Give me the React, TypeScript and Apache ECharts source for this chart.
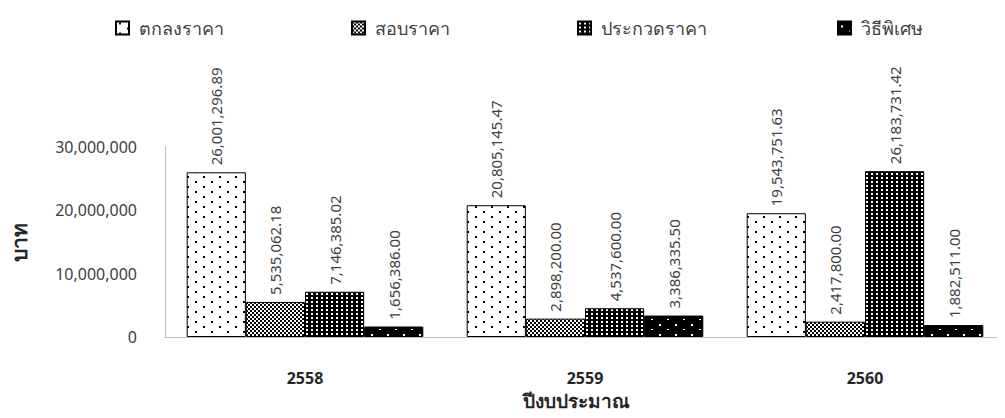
import React, { useEffect, useRef } from "react";
import * as echarts from "echarts";

const years = ["2558", "2559", "2560"];
const seriesNames = ["ตกลงราคา", "สอบราคา", "ประกวดราคา", "วิธีพิเศษ"];
const agreedPrice = [26001296.89, 20805145.47, 19543751.63];
const priceQuote = [5535062.18, 2898200.0, 2417800.0];
const bidding = [7146385.02, 4537600.0, 26183731.42];
const specialMethod = [1656386.0, 3386335.5, 1882511.0];
const yMin = 0;
const yMax = 30000000;
const yInterval = 10000000;
const xAxisTitle = "ปีงบประมาณ";
const yAxisTitle = "บาท";

const FONT = "Tahoma, 'Noto Sans', 'DejaVu Sans', sans-serif";

function makeTile(
  w: number,
  h: number,
  bg: string,
  fg: string,
  rects: number[][]
): HTMLCanvasElement {
  const c = document.createElement("canvas");
  c.width = w;
  c.height = h;
  const ctx = c.getContext("2d")!;
  ctx.fillStyle = bg;
  ctx.fillRect(0, 0, w, h);
  ctx.fillStyle = fg;
  rects.forEach(([x, y, rw, rh]) => ctx.fillRect(x, y, rw, rh));
  return c;
}

function fmt(v: number): string {
  return v.toLocaleString("en-US", {
    minimumFractionDigits: 2,
    maximumFractionDigits: 2,
  });
}

export default function App() {
  const ref = useRef<HTMLDivElement>(null);
  useEffect(() => {
    if (!ref.current) return;
    const chart = echarts.init(ref.current, undefined, { renderer: "svg" });

    const patterns = [
      makeTile(16, 10, "#ffffff", "#000000", [
        [3, 1, 2, 2],
        [11, 6, 2, 2],
      ]),
      makeTile(4, 4, "#ffffff", "#000000", [
        [0, 0, 2, 2],
        [2, 2, 2, 2],
      ]),
      makeTile(5, 4, "#000000", "#ffffff", [[1, 1, 2, 2]]),
      makeTile(16, 10, "#000000", "#ffffff", [
        [3, 4, 2, 2],
        [11, 9, 2, 1],
      ]),
    ];
    const values = [agreedPrice, priceQuote, bidding, specialMethod];
    const legendLefts = [110, 346, 572, 832];

    const option: any = {
      animation: false,
      textStyle: { fontFamily: FONT },
      grid: { left: 165, width: 847, top: 147, height: 190 },
      legend: seriesNames.map((n, i) => ({
        data: [n],
        left: legendLefts[i],
        top: 14,
        icon: "rect",
        itemWidth: 13,
        itemHeight: 13,
        itemGap: 0,
        selectedMode: false,
        formatter: (name: string) => " " + name,
        textStyle: { fontSize: 18, color: "#404040", fontFamily: FONT },
      })),
      xAxis: {
        type: "category",
        data: years,
        name: xAxisTitle,
        nameLocation: "middle",
        nameGap: 54,
        nameTextStyle: {
          fontSize: 19,
          fontWeight: "bold",
          color: "#262626",
          fontFamily: FONT,
          padding: [0, 17, 0, 0],
        },
        axisLine: { show: true, lineStyle: { color: "#bfbfbf", width: 1 } },
        axisTick: { show: false },
        axisLabel: {
          fontSize: 16,
          fontWeight: "bold",
          color: "#262626",
          margin: 33,
          fontFamily: FONT,
        },
      },
      yAxis: {
        type: "value",
        min: yMin,
        max: yMax,
        interval: yInterval,
        name: yAxisTitle,
        nameLocation: "middle",
        nameRotate: 90,
        nameGap: 136,
        nameTextStyle: {
          fontSize: 21,
          fontWeight: "bold",
          color: "#262626",
          fontFamily: FONT,
        },
        axisLine: { show: true, lineStyle: { color: "#bfbfbf", width: 1 } },
        axisTick: { show: false },
        splitLine: { show: false },
        axisLabel: {
          fontSize: 16,
          color: "#404040",
          margin: 28,
          fontFamily: FONT,
          formatter: (v: number) => v.toLocaleString("en-US"),
        },
      },
      series: seriesNames.map((n, i) => ({
        name: n,
        type: "bar",
        data: values[i],
        barGap: "0%",
        barCategoryGap: "15.5%",
        itemStyle: {
          color: { image: patterns[i], repeat: "repeat" },
          borderColor: "#000000",
          borderWidth: 1,
        },
        label: {
          show: true,
          position: "top",
          rotate: 90,
          align: "left",
          verticalAlign: "middle",
          distance: 7,
          fontSize: 15,
          color: "#404040",
          fontFamily: FONT,
          formatter: (p: any) => fmt(p.value),
        },
      })),
    };
    chart.setOption(option);
    return () => chart.dispose();
  }, []);
  return <div ref={ref} style={{ width: 1005, height: 418, margin: -8 }} />;
}
